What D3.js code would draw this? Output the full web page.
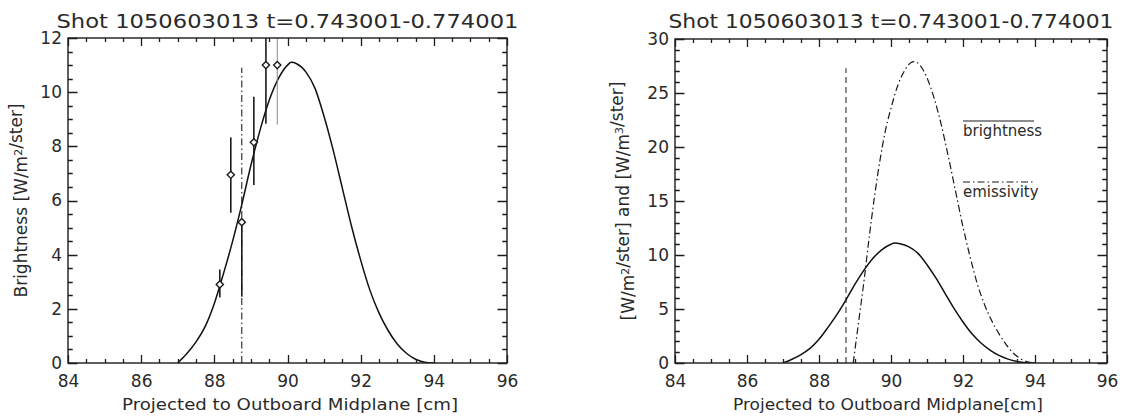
<!DOCTYPE html>
<html>
<head>
<meta charset="utf-8">
<script src="https://cdn.jsdelivr.net/npm/d3@7"></script>
<style>
  html, body { margin: 0; padding: 0; background: #fff; }
  svg { display: block; }
  text { font-family: "DejaVu Sans", sans-serif; font-weight: 400; fill: #2a2a2a; }
</style>
</head>
<body>
<svg id="chart" width="1131" height="417"></svg>
<script>
// Shared title and axis tick values
const titleText = "Shot 1050603013 t=0.743001-0.774001";
const xTicks = [84, 86, 88, 90, 92, 94, 96];
const leftYTicks = [0, 2, 4, 6, 8, 10, 12];
const rightYTicks = [0, 5, 10, 15, 20, 25, 30];

// Fitted brightness profile [W/m^2/ster] vs. major radius [cm]
const brightX = [87.0, 87.25, 87.5, 87.75, 88.0, 88.25, 88.5, 88.75, 89.0, 89.25, 89.5, 89.75,
                 90.0, 90.1, 90.25, 90.5, 90.75, 91.0, 91.25, 91.5, 91.75, 92.0, 92.25, 92.5,
                 92.75, 93.0, 93.25, 93.5, 93.75, 94.0];
const brightY = [0, 0.35, 0.78, 1.35, 2.2, 3.3, 4.5, 5.85, 7.3, 8.6, 9.7, 10.5,
                 11.0, 11.1, 11.05, 10.75, 10.15, 9.1, 7.85, 6.45, 5.05, 3.8, 2.7, 1.85,
                 1.2, 0.7, 0.36, 0.14, 0.03, 0];

// Inverted emissivity profile [W/m^3/ster]
const emisX = [88.95, 89.1, 89.25, 89.4, 89.55, 89.7, 89.85, 90.0, 90.2, 90.4, 90.55, 90.65,
               90.8, 91.0, 91.2, 91.4, 91.6, 91.8, 92.0, 92.2, 92.4, 92.6, 92.8, 93.0,
               93.2, 93.4, 93.6, 93.8, 94.0];
const emisY = [0, 3.8, 7.6, 11.8, 15.6, 18.9, 21.6, 23.6, 25.8, 27.2, 27.8, 27.9,
               27.6, 26.4, 24.5, 22.0, 19.0, 15.8, 12.6, 9.8, 7.3, 5.4, 3.9, 2.7,
               1.7, 0.9, 0.4, 0.1, 0];

// Measured chord brightnesses with error bars
const pointX = [88.15, 88.45, 88.75, 89.08, 89.41, 89.72];
const pointY = [2.9, 6.95, 5.2, 8.15, 11.0, 11.0];
const errLow = [2.42, 5.55, 2.45, 6.57, 8.83, 8.8];
const errHigh = [3.45, 8.33, 5.2, 9.83, 13.2, 13.2];

// Separatrix position marker
const sepX = 88.75;
const sepTopLeft = 10.9;
const sepTopRight = 27.3;

// Legend entries of the right panel
const legendNames = ["brightness", "emissivity"];

const svg = d3.select("#chart");
const DASHDOT = "7,3,1.5,3";
const DASHED = "6,4";
const tickLayer = [];

function panel(opts) {
  const g = svg.append("g");
  const x = d3.scaleLinear().domain([84, 96]).range([opts.x0, opts.x1]);
  const y = d3.scaleLinear().domain(opts.yDomain).range([opts.y0, opts.y1]);
  const nMinorX = Math.round((96 - 84) / 0.5);
  const nMinorY = Math.round((opts.yDomain[1] - opts.yDomain[0]) / opts.yMinor);
  const minorX = d3.range(nMinorX + 1).map(k => 84 + k * 0.5);
  const minorY = d3.range(nMinorY + 1).map(k => opts.yDomain[0] + k * opts.yMinor);
  const xTickLen = 8, yTickLen = 9.5;
  const isMajorX = v => xTicks.indexOf(v) >= 0;
  const isMajorY = v => opts.yTicks.indexOf(v) >= 0;

  // inward ticks on all four sides, collected as one path
  const p = d3.path();
  minorX.forEach(v => {
    const len = isMajorX(v) ? xTickLen : xTickLen / 2;
    const px = Math.round(x(v)) + 0.5;
    p.moveTo(px, opts.y0); p.lineTo(px, opts.y0 - len);
    p.moveTo(px, opts.y1); p.lineTo(px, opts.y1 + len);
  });
  minorY.forEach(v => {
    const len = isMajorY(v) ? yTickLen : yTickLen / 2;
    const py = Math.round(y(v)) + 0.5;
    p.moveTo(opts.x0, py); p.lineTo(opts.x0 + len, py);
    p.moveTo(opts.x1, py); p.lineTo(opts.x1 - len, py);
  });
  tickLayer.push({ d: p.toString(), frame: opts });

  // tick labels from the axis generators
  const styleLabels = sel => {
    sel.select(".domain").remove();
    sel.selectAll(".tick line").remove();
    sel.selectAll(".tick text").attr("fill", "#2a2a2a").attr("font-size", 17)
      .attr("font-family", "DejaVu Sans, sans-serif").attr("font-weight", 400);
  };
  g.append("g").attr("transform", `translate(0,${opts.y0})`)
    .call(d3.axisBottom(x).tickValues(xTicks).tickSize(0).tickPadding(12).tickFormat(d3.format("d")))
    .call(styleLabels);
  g.append("g").attr("transform", `translate(${opts.x0},0)`)
    .call(d3.axisLeft(y).tickValues(opts.yTicks).tickSize(0).tickPadding(6).tickFormat(d3.format("d")))
    .call(styleLabels);

  // title
  g.append("text")
    .attr("x", (opts.x0 + opts.x1) / 2).attr("y", 28)
    .attr("text-anchor", "middle").attr("font-size", 20)
    .attr("textLength", opts.titleLen).attr("lengthAdjust", "spacingAndGlyphs")
    .text(titleText);

  // x label
  g.append("text")
    .attr("x", opts.xLabelX).attr("y", 410)
    .attr("text-anchor", "middle").attr("font-size", 16.5)
    .attr("textLength", opts.xLabelLen).attr("lengthAdjust", "spacingAndGlyphs")
    .text(opts.xLabel);

  // y label with superscripts
  const yl = g.append("text")
    .attr("transform", `translate(${opts.yLabelX},${(opts.y0 + opts.y1) / 2}) rotate(-90)`)
    .attr("text-anchor", "middle").attr("font-size", 17);
  opts.yLabelParts.forEach(p => {
    if (p.sup) {
      yl.append("tspan").attr("dy", "-0.5em").attr("font-size", 11).text(p.t);
      yl.append("tspan").attr("dy", "0.5em").text("");
    } else {
      yl.append("tspan").text(p.t);
    }
  });

  const clipId = "clip" + opts.x0;
  g.append("clipPath").attr("id", clipId)
    .append("rect").attr("x", opts.x0).attr("y", opts.y1)
    .attr("width", opts.x1 - opts.x0).attr("height", opts.y0 - opts.y1);
  const plot = g.append("g").attr("clip-path", `url(#${clipId})`);

  return { g, plot, x, y };
}

// ---- Left panel: measured brightness and fit ----
const L = panel({
  x0: 68, x1: 507, y0: 363, y1: 38,
  yDomain: [0, 12], yTicks: leftYTicks, yMinor: 0.5,
  titleLen: 462,
  xLabel: "Projected to Outboard Midplane [cm]", xLabelX: 290, xLabelLen: 336,
  yLabelX: 27,
  yLabelParts: [{ t: "Brightness [W/m" }, { t: "2", sup: true }, { t: "/ster]" }]
});

const brightPts = brightX.map((d, i) => [d, brightY[i]]);
const emisPts = emisX.map((d, i) => [d, emisY[i]]);

L.plot.append("line")
  .attr("x1", L.x(sepX)).attr("x2", L.x(sepX))
  .attr("y1", L.y(0)).attr("y2", L.y(sepTopLeft))
  .attr("stroke", "#222").attr("stroke-width", 1.1).attr("stroke-dasharray", DASHDOT);

L.plot.append("path")
  .datum(brightPts)
  .attr("fill", "none").attr("stroke", "#111").attr("stroke-width", 1.5)
  .attr("d", d3.line().x(d => L.x(d[0])).y(d => L.y(d[1])).curve(d3.curveMonotoneX));

const pts = pointX.map((d, i) => ({ x: d, y: pointY[i], lo: errLow[i], hi: errHigh[i], i }));
L.plot.selectAll(".err").data(pts).join("line")
  .attr("class", "err")
  .attr("x1", d => L.x(d.x)).attr("x2", d => L.x(d.x))
  .attr("y1", d => L.y(d.lo)).attr("y2", d => L.y(d.hi))
  .attr("stroke", d => d.i === 5 ? "#888" : "#1a1a1a")
  .attr("stroke-width", d => d.i === 5 ? 1 : 1.6);
L.plot.selectAll(".pt").data(pts).join("path")
  .attr("class", "pt")
  .attr("transform", d => `translate(${L.x(d.x)},${L.y(d.y)})`)
  .attr("d", "M0,-3.6L3.6,0L0,3.6L-3.6,0Z")
  .attr("fill", "#fff").attr("stroke", "#1a1a1a").attr("stroke-width", 1.4);

// ---- Right panel: brightness and emissivity ----
const R = panel({
  x0: 675, x1: 1107, y0: 363, y1: 39,
  yDomain: [0, 30], yTicks: rightYTicks, yMinor: 1,
  titleLen: 445,
  xLabel: "Projected to Outboard Midplane[cm]", xLabelX: 888, xLabelLen: 310,
  yLabelX: 634,
  yLabelParts: [{ t: "[W/m" }, { t: "2", sup: true }, { t: "/ster] and [W/m" }, { t: "3", sup: true }, { t: "/ster]" }]
});

R.plot.append("line")
  .attr("x1", R.x(sepX)).attr("x2", R.x(sepX))
  .attr("y1", R.y(0)).attr("y2", R.y(sepTopRight))
  .attr("stroke", "#333").attr("stroke-width", 1.1).attr("stroke-dasharray", DASHED);

R.plot.append("path")
  .datum(brightPts)
  .attr("fill", "none").attr("stroke", "#111").attr("stroke-width", 1.5)
  .attr("d", d3.line().x(d => R.x(d[0])).y(d => R.y(d[1])).curve(d3.curveMonotoneX));

R.plot.append("path")
  .datum(emisPts)
  .attr("fill", "none").attr("stroke", "#1a1a1a").attr("stroke-width", 1.2)
  .attr("stroke-dasharray", DASHDOT)
  .attr("d", d3.line().x(d => R.x(d[0])).y(d => R.y(d[1])).curve(d3.curveMonotoneX));

// legend
const legend = R.g.append("g");
legendNames.forEach((name, i) => {
  const ly = 121 + i * 61;
  legend.append("line")
    .attr("x1", 963).attr("x2", 1034).attr("y1", ly).attr("y2", ly)
    .attr("stroke", "#1a1a1a").attr("stroke-width", 1.2)
    .attr("stroke-dasharray", i === 1 ? DASHDOT : null);
  legend.append("text")
    .attr("x", 963).attr("y", ly + 15).attr("font-size", 15)
    .text(name);
});

// frames and ticks drawn last, on top of everything
tickLayer.forEach(t => {
  const o = t.frame;
  svg.append("rect")
    .attr("x", o.x0).attr("y", o.y1)
    .attr("width", o.x1 - o.x0).attr("height", o.y0 - o.y1)
    .attr("fill", "none").attr("stroke", "#1c1c1c").attr("stroke-width", 1.4);
  svg.append("path")
    .attr("d", t.d)
    .attr("fill", "none").attr("stroke", "#1c1c1c").attr("stroke-width", 1.3);
});
</script>
</body>
</html>
